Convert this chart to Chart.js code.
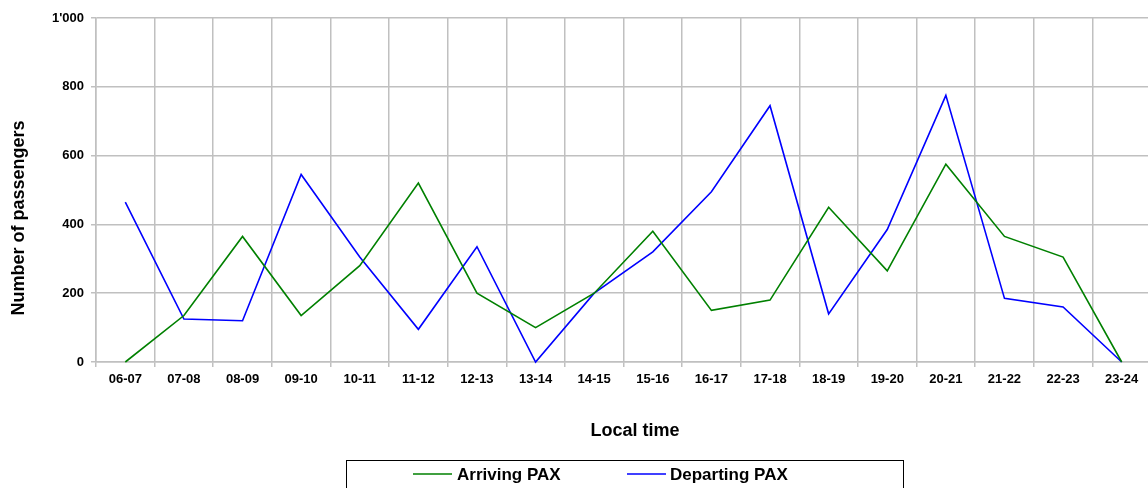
<!DOCTYPE html>
<html>
<head>
<meta charset="utf-8">
<script src="https://cdn.jsdelivr.net/npm/chart.js@4/dist/chart.umd.min.js"></script>
<style>
  html, body { margin: 0; padding: 0; background: #fff; overflow: hidden; }
  #wrap { position: relative; width: 1151px; height: 488px; }
</style>
</head>
<body>
<div id="wrap"><canvas id="c"></canvas></div>
<script>
const categories = ['06-07','07-08','08-09','09-10','10-11','11-12','12-13','13-14','14-15','15-16','16-17','17-18','18-19','19-20','20-21','21-22','22-23','23-24'];
const arrivingPax = [0,135,365,135,280,520,200,100,200,380,150,180,450,265,575,365,305,0];
const departingPax = [465,125,120,545,305,95,335,0,200,320,495,745,140,385,775,185,160,0];
const yTickLabels = ['0','200','400','600','800',"1'000"];
const seriesNames = ['Arriving PAX','Departing PAX'];
const seriesColors = ['#008000','#0000ff'];
const xTitle = 'Local time';
const yTitle = 'Number of passengers';

const FONT = '"Liberation Sans", Arial, sans-serif';
const GRID = '#c0c0c0';

const annotations = {
  id: 'annotations',
  afterDraw(chart) {
    const ctx = chart.ctx;
    ctx.save();
    // axis titles
    ctx.fillStyle = '#000';
    ctx.font = 'bold 18px ' + FONT;
    ctx.textAlign = 'center';
    ctx.textBaseline = 'alphabetic';
    ctx.fillText(xTitle, 635, 436);
    ctx.save();
    ctx.translate(24, 218);
    ctx.rotate(-Math.PI / 2);
    ctx.fillText(yTitle, 0, 0);
    ctx.restore();
    // boxed legend
    ctx.strokeStyle = '#000';
    ctx.lineWidth = 1;
    ctx.strokeRect(346.5, 460.5, 557, 40);
    const items = [{lx: 413, tx: 457}, {lx: 627, tx: 670}];
    ctx.font = 'bold 17px ' + FONT;
    ctx.textBaseline = 'middle';
    ctx.textAlign = 'left';
    chart.data.datasets.forEach((ds, i) => {
      const it = items[i];
      ctx.strokeStyle = ds.borderColor;
      ctx.lineWidth = 1.5;
      ctx.beginPath();
      ctx.moveTo(it.lx, 474);
      ctx.lineTo(it.lx + 39, 474);
      ctx.stroke();
      ctx.fillStyle = '#000';
      ctx.fillText(ds.label, it.tx, 475);
    });
    ctx.restore();
  }
};

new Chart(document.getElementById('c'), {
  type: 'line',
  data: {
    labels: categories,
    datasets: [
      { label: seriesNames[0], data: arrivingPax, borderColor: seriesColors[0], backgroundColor: seriesColors[0], borderWidth: 1.6, pointRadius: 0, tension: 0, clip: false },
      { label: seriesNames[1], data: departingPax, borderColor: seriesColors[1], backgroundColor: seriesColors[1], borderWidth: 1.6, pointRadius: 0, tension: 0, clip: false }
    ]
  },
  options: {
    responsive: true,
    maintainAspectRatio: false,
    animation: false,
    layout: { padding: { top: 18, left: 0, right: 0, bottom: 0 } },
    plugins: { legend: { display: false }, tooltip: { enabled: false } },
    scales: {
      x: {
        type: 'category',
        offset: true,
        grid: { offset: true, color: GRID, lineWidth: 1.5, tickLength: 5, drawTicks: true },
        border: { color: GRID, width: 1.5 },
        ticks: { color: '#000', font: { family: FONT, size: 13, weight: 'bold' }, padding: 5, maxRotation: 0, autoSkip: false },
        afterFit(scale) { scale.height = 126; }
      },
      y: {
        min: 0, max: 1000,
        grid: { color: GRID, lineWidth: 1.5, tickLength: 5 },
        border: { color: GRID, width: 1.5 },
        ticks: { stepSize: 200, color: '#000', font: { family: FONT, size: 13, weight: 'bold' }, padding: 7,
                 callback: (v, i) => yTickLabels[i] },
        afterFit(scale) { scale.width = 96; }
      }
    }
  },
  plugins: [annotations]
});
</script>
</body>
</html>
